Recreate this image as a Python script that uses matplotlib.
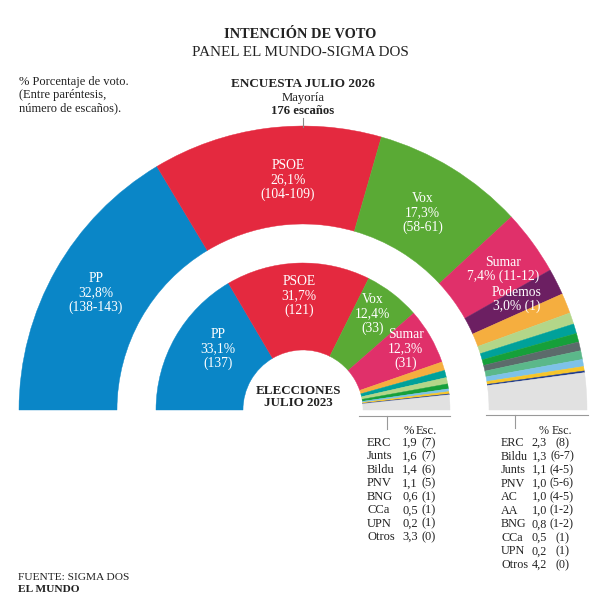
import matplotlib
matplotlib.use('Agg')
import matplotlib.pyplot as plt
from matplotlib.patches import Wedge
import numpy as np

plt.rcParams['font.family'] = ['Liberation Serif', 'DejaVu Serif']

# Encuesta julio 2026 (outer ring)
enc_parties = ['PP', 'PSOE', 'Vox', 'Sumar', 'Podemos', 'ERC', 'Bildu', 'Junts', 'PNV',
               'AC', 'AA', 'BNG', 'CCa', 'UPN', 'Otros']
enc_pct = [32.8, 26.1, 17.3, 7.4, 3.0, 2.3, 1.3, 1.1, 1.0, 1.0, 1.0, 0.8, 0.5, 0.2, 4.2]
enc_seats = ['138-143', '104-109', '58-61', '11-12', '1', '8', '6-7', '4-5', '5-6',
             '4-5', '1-2', '1-2', '1', '1', '0']

# Elecciones julio 2023 (inner ring)
ele_parties = ['PP', 'PSOE', 'Vox', 'Sumar', 'ERC', 'Junts', 'Bildu', 'PNV', 'BNG',
               'CCa', 'UPN', 'Otros']
ele_pct = [33.1, 31.7, 12.4, 12.3, 1.9, 1.6, 1.4, 1.1, 0.6, 0.5, 0.2, 3.3]
ele_seats = ['137', '121', '33', '31', '7', '7', '6', '5', '1', '1', '1', '0']

colors = {
    'PP': '#0a86c7', 'PSOE': '#e4293f', 'Vox': '#5aaa35', 'Sumar': '#e0306a',
    'Podemos': '#6c1f62', 'ERC': '#f5ae3f', 'Bildu': '#b3d689', 'Junts': '#00a19a',
    'PNV': '#16a03a', 'AC': '#5c6b6b', 'AA': '#5bb88a', 'BNG': '#7ec2e8',
    'CCa': '#f6c52a', 'UPN': '#1f3b8c', 'Otros': '#e1e1e1',
}

W, H = 595, 606
fig = plt.figure(figsize=(W / 100, H / 100), dpi=100)
ax = fig.add_axes([0, 0, 1, 1])
ax.set_xlim(0, W)
ax.set_ylim(0, H)
ax.axis('off')

cx, cy = 303, H - 410
txt = '#222222'


def ring(pct, parties, r_out, r_in):
    total = sum(pct)
    start = 180.0
    mids = []
    for p, v in zip(parties, pct):
        span = v / total * 180.0
        w = Wedge((cx, cy), r_out, start - span, start, width=r_out - r_in,
                  facecolor=colors[p], edgecolor=colors[p], linewidth=0.3)
        ax.add_patch(w)
        mids.append(np.radians(start - span / 2))
        start -= span
    return mids


def pct_str(v):
    return f'{v:.1f}'.replace('.', ',')


R_OUT, r_out_in = 284, 186
R_IN, r_in_in = 147, 60
enc_mid = ring(enc_pct, enc_parties, R_OUT, r_out_in)
ele_mid = ring(ele_pct, ele_parties, R_IN, r_in_in)

# slice labels (small hand nudges like the original layout)
nudge_out = {'PSOE': (16, -6), 'Vox': (-5, -6), 'Sumar': (2, -4), 'Podemos': (-5, 0)}
nudge_in = {'PP': (14, 4), 'Vox': (0, 6), 'Sumar': (4, 4)}
lab_kw = dict(color='white', ha='center', va='center', fontsize=9.8, linespacing=1.12)
for i in range(5):
    a = enc_mid[i]
    r = 238 if i < 3 else 245
    dx, dy = nudge_out.get(enc_parties[i], (0, 0))
    sep = '\n' if i < 3 else ' '
    ax.text(cx + r * np.cos(a) + dx, cy + r * np.sin(a) + dy,
            f'{enc_parties[i]}\n{pct_str(enc_pct[i])}%{sep}({enc_seats[i]})', **lab_kw)
for i in range(4):
    a = ele_mid[i]
    dx, dy = nudge_in.get(ele_parties[i], (0, 0))
    ax.text(cx + 114 * np.cos(a) + dx, cy + 114 * np.sin(a) + dy,
            f'{ele_parties[i]}\n{pct_str(ele_pct[i])}%\n({ele_seats[i]})', **lab_kw)

# titles
ax.text(300, H - 34, 'INTENCIÓN DE VOTO', ha='center', va='center', fontsize=10.4,
        fontweight='bold', color=txt)
ax.text(300, H - 52, 'PANEL EL MUNDO-SIGMA DOS', ha='center', va='center', fontsize=10.9,
        color=txt)
ax.text(303, H - 84, 'ENCUESTA JULIO 2026', ha='center', va='center', fontsize=9.5,
        fontweight='bold', color=txt)
ax.text(303, H - 98, 'Mayoría', ha='center', va='center', fontsize=9.2, color=txt)
ax.text(303, H - 111, '176 escaños', ha='center', va='center', fontsize=9.2,
        fontweight='bold', color=txt)
ax.plot([303, 303], [H - 118, H - 127], color='#888888', lw=0.8)
ax.text(19, H - 76, '% Porcentaje de voto.\n(Entre paréntesis,\nnúmero de escaños).',
        ha='left', va='top', fontsize=9, color=txt, linespacing=1.12)
ax.text(298, H - 397, 'ELECCIONES\nJULIO 2023', ha='center', va='center', fontsize=9.4,
        fontweight='bold', color=txt, linespacing=1.05)

# brackets under small parties
gray = '#999999'
ax.plot([cx + r_in_in - 4, cx + R_IN], [H - 416, H - 416], color=gray, lw=0.8)
ax.plot([387, 387], [H - 416, H - 429], color=gray, lw=0.8)
ax.plot([cx + r_out_in - 3, cx + R_OUT + 1], [H - 415, H - 415], color=gray, lw=0.8)
ax.plot([515, 515], [H - 415, H - 428], color=gray, lw=0.8)

# tables
tab_kw = dict(fontsize=9, color=txt, va='center')
ax.text(404, H - 431, '%', ha='left', **tab_kw)
ax.text(416, H - 431, 'Esc.', ha='left', **tab_kw)
for k, i in enumerate(range(4, len(ele_parties))):
    y = H - 443 - 13.45 * k
    ax.text(367, y, ele_parties[i], ha='left', **tab_kw)
    ax.text(418, y, pct_str(ele_pct[i]), ha='right', **tab_kw)
    ax.text(421, y, f'({ele_seats[i]})', ha='left', **tab_kw)

tab2_kw = dict(tab_kw, fontsize=8.7)
ax.text(539, H - 431, '%', ha='left', **tab2_kw)
ax.text(552, H - 431, 'Esc.', ha='left', **tab2_kw)
for k, i in enumerate(range(5, len(enc_parties))):
    y = H - 443 - 13.55 * k
    ax.text(501, y, enc_parties[i], ha='left', **tab2_kw)
    ax.text(547, y, pct_str(enc_pct[i]), ha='right', **tab2_kw)
    ax.text(562, y, f'({enc_seats[i]})', ha='center', **tab2_kw)

# footer
ax.text(18, H - 577, 'FUENTE: SIGMA DOS', ha='left', va='center', fontsize=8.2, color=txt)
ax.text(18, H - 589, 'EL MUNDO', ha='left', va='center', fontsize=8.2,
        fontweight='bold', color=txt)

fig.savefig('out.png', dpi=100, facecolor='white')
